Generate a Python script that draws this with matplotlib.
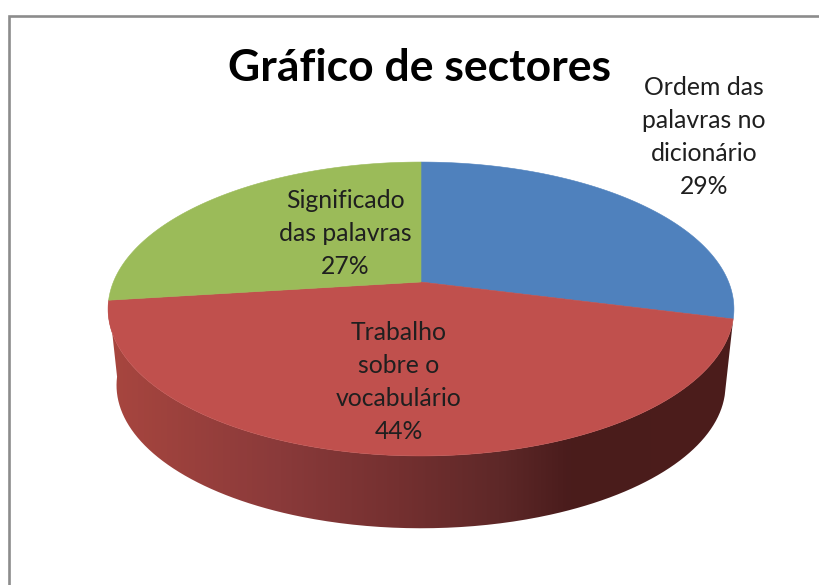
import numpy as np
import matplotlib
matplotlib.use("Agg")
import matplotlib.pyplot as plt
from matplotlib.colors import LinearSegmentedColormap
from matplotlib.patches import PathPatch
from matplotlib.path import Path

title = "Gráfico de sectores"
categories = ["Ordem das\npalavras no\ndicionário", "Trabalho\nsobre o\nvocabulário", "Significado\ndas palavras"]
values = [29, 44, 27]
colors = ["#4F81BD", "#C0504D", "#9BBB59"]

plt.rcParams["font.family"] = ["Lato", "DejaVu Sans"]

W, H = 820, 585
fig = plt.figure(figsize=(W / 100, H / 100), dpi=100, facecolor="white")
ax = fig.add_axes([0, 0, 1, 1])
ax.set_xlim(0, W)
ax.set_ylim(H, 0)
ax.axis("off")

# perspective pie geometry
CX, CY = 421, 282
A, B, K = 307.6, 142.0, 0.1837
DEPTH_DY, DEPTH_SCALE = 77.0, 0.973


def rim(f0, f1, scale=1.0, dy=0.0, n=300):
    """Rim points between two pie fractions, clockwise from the top."""
    t = 2 * np.pi * np.linspace(f0, f1, n)
    x, y = np.sin(t), np.cos(t)
    d = 1 + K * y
    return CX + scale * A * x / d, CY + dy - scale * B * y / d


# frame
ax.plot([9.5, 9.5, W + 5], [H + 5, 15.5, 15.5], color="#8C8C8C", lw=1.9,
        solid_joinstyle="miter", zorder=1)

fractions = np.cumsum([0] + values) / sum(values)

# side wall of the front slice, shaded left to right
red_i = 1
xt, yt = rim(fractions[red_i], fractions[red_i + 1])
xb, yb = rim(fractions[red_i], fractions[red_i + 1], DEPTH_SCALE, DEPTH_DY)
verts = np.column_stack([np.r_[xt, xb[::-1], xt[0]], np.r_[yt, yb[::-1], yt[0]]])
clip = PathPatch(Path(verts), transform=ax.transData, fc="none", ec="none")
ax.add_patch(clip)
stops = [(0.0, "#A8463F"), (0.275, "#8A3A3A"), (0.466, "#743030"),
         (0.626, "#5E2828"), (0.738, "#4A1C1C"), (1.0, "#4C1D1B")]
cmap = LinearSegmentedColormap.from_list("side", stops)
im = ax.imshow(np.linspace(0, 1, 512)[None, :], cmap=cmap, aspect="auto",
               extent=[108, 734, 540, 290], zorder=2, interpolation="bilinear")
im.set_clip_path(clip)
ax.set_xlim(0, W)
ax.set_ylim(H, 0)

# top face slices
for i, c in enumerate(colors):
    x, y = rim(fractions[i], fractions[i + 1])
    ax.fill(np.r_[CX, x], np.r_[CY, y], color=c, lw=0.4, zorder=3)

# texts
ax.text(420, 68, title, ha="center", va="center", fontsize=32, fontweight="bold",
        color="black", zorder=5)
label_pos = [(704, 137), (399, 382), (345, 233.5)]
for cat, v, (lx, ly) in zip(categories, values, label_pos):
    ax.text(lx, ly, f"{cat}\n{v}%", ha="center", va="center", fontsize=17.8,
            color="#1F1F1F", linespacing=1.51, zorder=5)

fig.savefig("out.png", dpi=100)
